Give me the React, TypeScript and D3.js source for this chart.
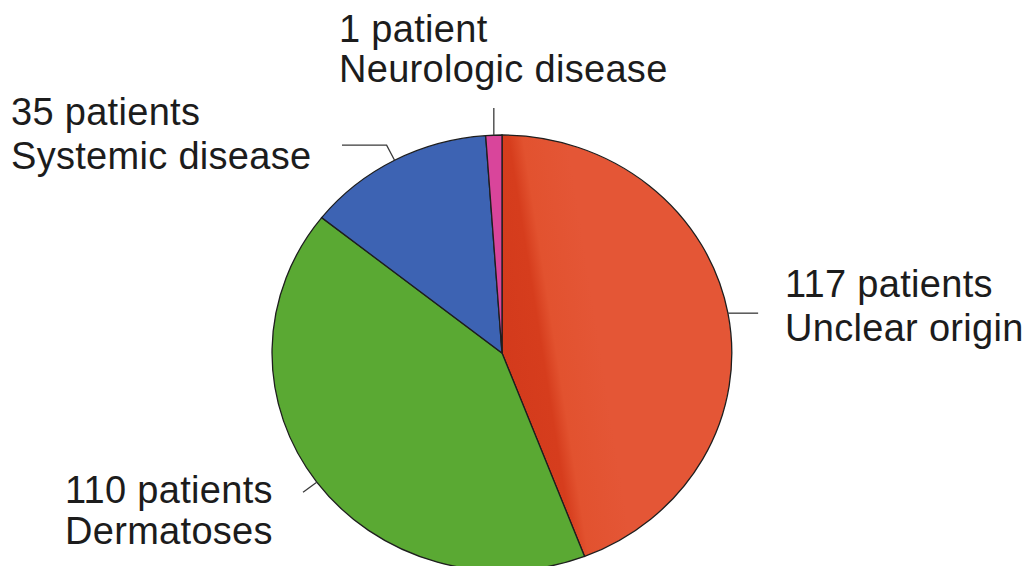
import React, { useMemo } from "react";
import * as d3 from "d3";

// ---- data ----
const categories = ["Unclear origin", "Dermatoses", "Systemic disease", "Neurologic disease"];
const patients = [117, 110, 35, 1];
const countLabels = ["117 patients", "110 patients", "35 patients", "1 patient"];
const colors = ["#e2522f", "#5aa933", "#3d63b3", "#d9459b"];
// tiny slices are drawn a little wider so they stay visible (as in the source)
const minDisplayValue = 3;

const W = 1029;
const H = 566;

export default function App() {
  const cx = 502;
  const cy = 353;
  const rx = 230;
  const ry = 218;

  const arcs = useMemo(
    () =>
      d3
        .pie<number>()
        .sort(null)
        .value((d) => Math.max(d, minDisplayValue))(patients),
    []
  );

  const arcGen = d3.arc<d3.PieArcDatum<number>>().innerRadius(0).outerRadius(1);

  const edge = (a: number, extra = 0) => [
    cx + (rx + extra) * Math.sin(a),
    cy - (ry + extra) * Math.cos(a),
  ];

  const labelPos: { x: number; y: number }[] = [
    { x: 785, y: 297 },
    { x: 65, y: 503 },
    { x: 11, y: 125 },
    { x: 339, y: 42 },
  ];
  const lineGap = [44, 41, 44, 40];

  const leaders = arcs.map((a, i) => {
    const m = (a.startAngle + a.endAngle) / 2;
    const [x0, y0] = edge(m);
    let pts: number[][];
    if (i === 0) pts = [[x0, y0], [x0 + 30, y0]];
    else if (i === 1) { const [x1, y1] = edge(m, 17); pts = [[x0, y0], [x1, y1]]; }
    else if (i === 2) { const [x1, y1] = edge(m, 17); pts = [[x0, y0], [x1, y1], [342, y1]]; }
    else pts = [[x0, y0], [x0, 108]];
    return d3.line()(pts as [number, number][]) as string;
  });

  return (
    <svg
      width={W}
      height={H}
      style={{ position: "absolute", left: 0, top: 0, background: "#fff" }}
      fontFamily="'Liberation Sans', Arial, Helvetica, sans-serif"
    >
      <defs>
        <linearGradient
          id="redShade"
          gradientUnits="userSpaceOnUse"
          x1={-2 / rx}
          y1={0}
          x2={(-2 + 99) / rx}
          y2={-14 / ry}
        >
          <stop offset="0" stopColor="#d33a1c" />
          <stop offset="0.42" stopColor="#d63d1d" />
          <stop offset="0.56" stopColor="#e2522f" />
          <stop offset="1" stopColor="#e45636" />
        </linearGradient>
      </defs>
      <rect width={W} height={H} fill="#fff" />
      <g transform={`translate(${cx},${cy}) scale(${rx},${ry})`}>
        {arcs.map((a, i) => (
          <path
            key={categories[i]}
            d={arcGen(a) as string}
            fill={i === 0 ? "url(#redShade)" : colors[i]}
            stroke="#1e1e1e"
            strokeWidth={1.3}
            vectorEffect="non-scaling-stroke"
          />
        ))}
      </g>
      {leaders.map((d, i) => (
        <path key={"l" + i} d={d} fill="none" stroke="#3a3a3a" strokeWidth={1.3} />
      ))}
      {categories.map((c, i) => (
        <text
          key={"t" + i}
          x={labelPos[i].x}
          y={labelPos[i].y}
          fontSize={38}
          letterSpacing={0.3}
          fill="#1c1c1c"
        >
          <tspan x={labelPos[i].x}>{countLabels[i]}</tspan>
          <tspan x={labelPos[i].x} dy={lineGap[i]}>{c}</tspan>
        </text>
      ))}
    </svg>
  );
}
